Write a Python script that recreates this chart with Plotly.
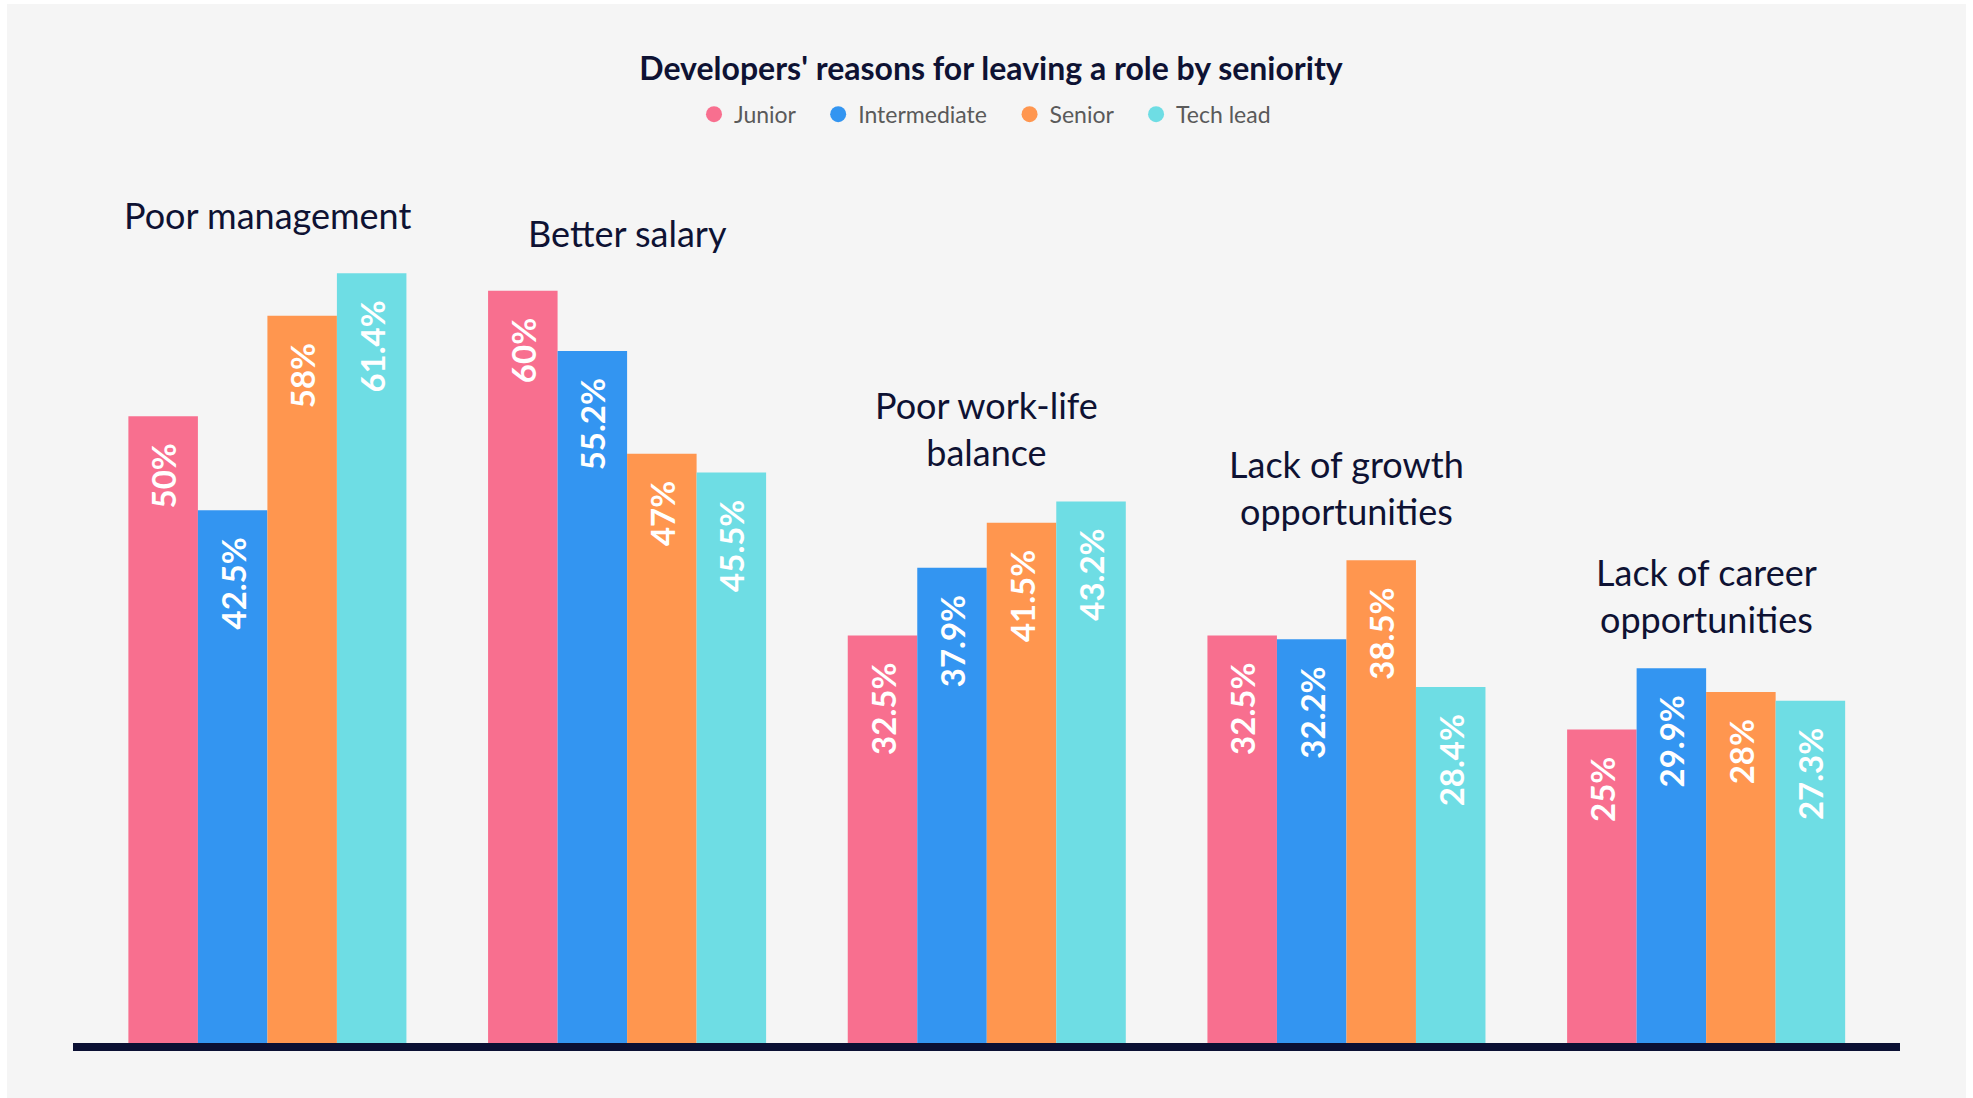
import plotly.graph_objects as go

# Survey data: share of developers citing each reason, by seniority
reasons = [
    "Poor management",
    "Better salary",
    "Poor work-life<br>balance",
    "Lack of growth<br>opportunities",
    "Lack of career<br>opportunities",
]
levels = ["Junior", "Intermediate", "Senior", "Tech lead"]

junior = [50, 60, 32.5, 32.5, 25]
intermediate = [42.5, 55.2, 37.9, 32.2, 29.9]
senior = [58, 47, 41.5, 38.5, 28]
tech_lead = [61.4, 45.5, 43.2, 28.4, 27.3]

series = [junior, intermediate, senior, tech_lead]
colors = ["#F86F8F", "#3395F1", "#FF964F", "#6EDDE4"]

FONT = "Lato"
NAVY = "#0E1233"
PAD = "\u00a0\u00a0\u00a0"      # keeps the value labels a little below the bar tops
LEG_PAD = "\u00a0\u00a0\u00a0"  # extra breathing room between legend entries

fig = go.Figure()

for name, vals, col in zip(levels, series, colors):
    fig.add_trace(go.Bar(
        x=reasons,
        y=vals,
        name=name,
        marker=dict(color=col, line=dict(width=0)),
        text=[f"{v:g}%" + PAD for v in vals],
        textposition="inside",
        insidetextanchor="end",
        textangle=-90,
        textfont=dict(family=FONT, size=33, color="white", weight="bold"),
        showlegend=False,
        hoverinfo="skip",
    ))

# Round legend markers
for name, col in zip(levels, colors):
    fig.add_trace(go.Scatter(
        x=[None], y=[None], mode="markers", name=name + LEG_PAD,
        marker=dict(color=col, size=16, symbol="circle"),
    ))

# Reason names sit above the tallest bar of each group
for i, r in enumerate(reasons):
    top = max(s[i] for s in series)
    single = "<br>" not in r
    fig.add_annotation(
        x=r, y=top, xref="x", yref="y",
        text=r, showarrow=False,
        yanchor="bottom", yshift=34 if single else 25,
        font=dict(family=FONT, size=36, color=NAVY),
        align="center",
    )

# Light grey card behind the chart
L, R, T, B = 73, 73, 40, 55
PW, PH = 1973 - L - R, 1098 - T - B
fig.add_shape(
    type="rect", xref="paper", yref="paper",
    x0=(7 - L) / PW, x1=(1966 - L) / PW,
    y0=-B / PH, y1=(1098 - B - 4) / PH,
    fillcolor="#F5F5F5", line=dict(width=0), layer="below",
)

fig.update_layout(
    width=1973, height=1098,
    margin=dict(l=L, r=R, t=T, b=B),
    paper_bgcolor="white",
    plot_bgcolor="rgba(0,0,0,0)",
    barmode="group",
    bargap=0.227,
    bargroupgap=0,
    title=dict(
        text="Developers' reasons for leaving a role by seniority",
        x=0.5023, xanchor="center", xref="container",
        y=1 - 69 / 1098, yanchor="middle", yref="container",
        font=dict(family=FONT, size=32, color=NAVY, weight="bold"),
    ),
    legend=dict(
        orientation="h",
        x=(994 - L) / PW, xanchor="center",
        y=0.926, yanchor="middle",
        font=dict(family=FONT, size=23, color="#5A5A5A"),
        bgcolor="rgba(0,0,0,0)",
        itemclick=False, itemdoubleclick=False,
    ),
    xaxis=dict(
        range=[-0.5405, 4.539],
        showticklabels=False, ticks="", showgrid=False, zeroline=False,
        showline=True, linewidth=8, linecolor="#0B1033",
    ),
    yaxis=dict(
        range=[0, 80], visible=False, showgrid=False, zeroline=False,
    ),
)

fig.write_html("out.html")
